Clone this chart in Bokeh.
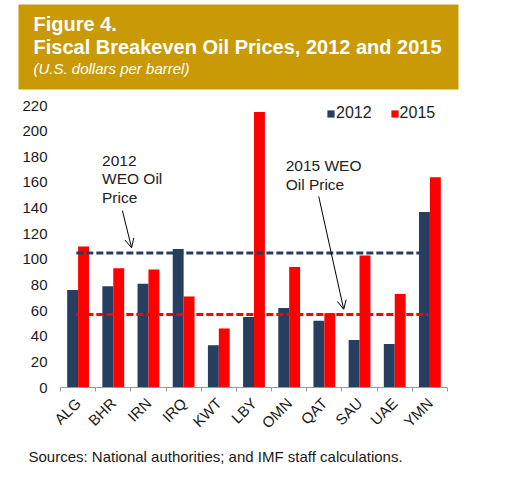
import math
import numpy as np
from bokeh.plotting import figure
from bokeh.layouts import column
from bokeh.models import (Range1d, FixedTicker, Legend, LegendItem, Arrow, OpenHead,
                          Label, BoxAnnotation)
from bokeh.core.properties import value
from bokeh.embed import file_html
from bokeh.resources import INLINE

# data
countries = ["ALG", "BHR", "IRN", "IRQ", "KWT", "LBY", "OMN", "QAT", "SAU", "UAE", "YMN"]
be_2012 = [76, 79, 81, 108, 33, 55, 62, 52, 37, 34, 137]
be_2015 = [110, 93, 92, 71, 46, 215, 94, 58, 103, 73, 164]
weo_2012 = 105
weo_2015 = 57
y_ticks = list(range(0, 221, 20))

NAVY = "#263E5F"
RED = "#FF0000"
GOLD = "#C99A06"
FONT = "Liberation Sans"
W = 498


def strip(h):
    # figure used only for text, in pixel coordinates
    f = figure(width=W, height=h, x_range=Range1d(0, W), y_range=Range1d(0, h),
               x_axis_type=None, y_axis_type=None, toolbar_location=None,
               output_backend="svg", min_border=0, outline_line_color=None)
    f.frame_align = False
    return f


# banner with the title
banner = strip(96)
banner.add_layout(BoxAnnotation(left=18, right=458, bottom=7, top=92, fill_color=GOLD,
                                fill_alpha=1, line_color=None))
banner.add_layout(Label(x=33, y=62, text="Figure 4.", text_font=FONT, text_font_size="20px",
                        text_font_style="bold", text_color="white"))
banner.add_layout(Label(x=33, y=39, text="Fiscal Breakeven Oil Prices, 2012 and 2015",
                        text_font=FONT, text_font_size="20px", text_font_style="bold",
                        text_color="white"))
banner.add_layout(Label(x=33, y=20, text="(U.S. dollars per barrel)", text_font=FONT,
                        text_font_size="15px", text_font_style="italic", text_color="white"))

# main chart
n = len(countries)
centers = np.arange(n) + 0.5
bw = 0.31

p = figure(width=W, height=344, x_range=Range1d(0, n), y_range=Range1d(0, 220),
           toolbar_location=None, output_backend="svg",
           min_border_left=60, min_border_right=51, min_border_top=9, min_border_bottom=52)
p.frame_align = False
p.xgrid.visible = False
p.ygrid.visible = False
p.outline_line_color = None

r1 = p.vbar(x=centers - bw / 2, top=be_2012, width=bw, fill_color=NAVY, line_color=None)
r2 = p.vbar(x=centers + bw / 2, top=be_2015, width=bw, fill_color=RED, line_color=None)

line_x = [0.45, n - 0.55]
p.line(line_x, [weo_2012] * 2, line_color=NAVY, line_width=3, line_dash="7 3")
p.line(line_x, [weo_2015] * 2, line_color=RED, line_width=3, line_dash="7 3")

# annotations
p.text(x=[1.18], y=[184], text=["2012\nWEO Oil\nPrice"], text_font=value(FONT),
       text_font_size="15.5px", text_color="#222222", text_baseline="top",
       text_line_height=1.1)
p.add_layout(Arrow(end=OpenHead(size=9, line_width=1, line_color="black"),
                   x_start=1.76, y_start=138, x_end=2.02, y_end=109,
                   line_width=1, line_color="black"))
p.text(x=[6.4], y=[179.5], text=["2015 WEO\nOil Price"], text_font=value(FONT),
       text_font_size="15.5px", text_color="#222222", text_baseline="top",
       text_line_height=1.1)
p.add_layout(Arrow(end=OpenHead(size=9, line_width=1, line_color="black"),
                   x_start=7.34, y_start=149, x_end=8.05, y_end=61,
                   line_width=1, line_color="black"))

# axes
p.xaxis.ticker = FixedTicker(ticks=list(centers), minor_ticks=list(range(n + 1)))
p.xaxis.major_label_overrides = {float(c): name for c, name in zip(centers, countries)}
p.xaxis.major_label_orientation = math.pi / 4
p.xaxis.major_tick_out = 0
p.xaxis.major_tick_in = 0
p.xaxis.minor_tick_out = 4
p.xaxis.minor_tick_in = 0
p.xaxis.minor_tick_line_color = "#999999"
p.xaxis.axis_line_color = "#999999"
p.xaxis.major_label_standoff = 9
p.xaxis.major_label_text_font = FONT
p.xaxis.major_label_text_font_size = "15px"
p.xaxis.major_label_text_color = "#1a1a1a"

p.yaxis.ticker = FixedTicker(ticks=y_ticks)
p.yaxis.axis_line_color = None
p.yaxis.major_tick_line_color = None
p.yaxis.minor_tick_line_color = None
p.yaxis.major_tick_out = 0
p.yaxis.major_tick_in = 0
p.yaxis.major_label_standoff = 13
p.yaxis.major_label_text_font = FONT
p.yaxis.major_label_text_font_size = "15px"
p.yaxis.major_label_text_color = "#1a1a1a"

legend = Legend(items=[LegendItem(label="2012", renderers=[r1]),
                       LegendItem(label="2015", renderers=[r2])],
                orientation="horizontal", location=(266, 265),
                border_line_color=None, background_fill_alpha=0,
                glyph_width=9, glyph_height=9, label_standoff=1, spacing=18,
                padding=0, margin=0, label_text_font=FONT,
                label_text_font_size="16px", label_text_color="#222222")
p.add_layout(legend)

# footer with the source note
footer = strip(38)
footer.add_layout(Label(x=28, y=13.5, text="Sources: National authorities; and IMF staff calculations.",
                        text_font=FONT, text_font_size="15px", text_color="#1a1a1a"))

page = column(banner, p, footer, spacing=0)
open("out.html", "w").write(file_html(page, INLINE))
